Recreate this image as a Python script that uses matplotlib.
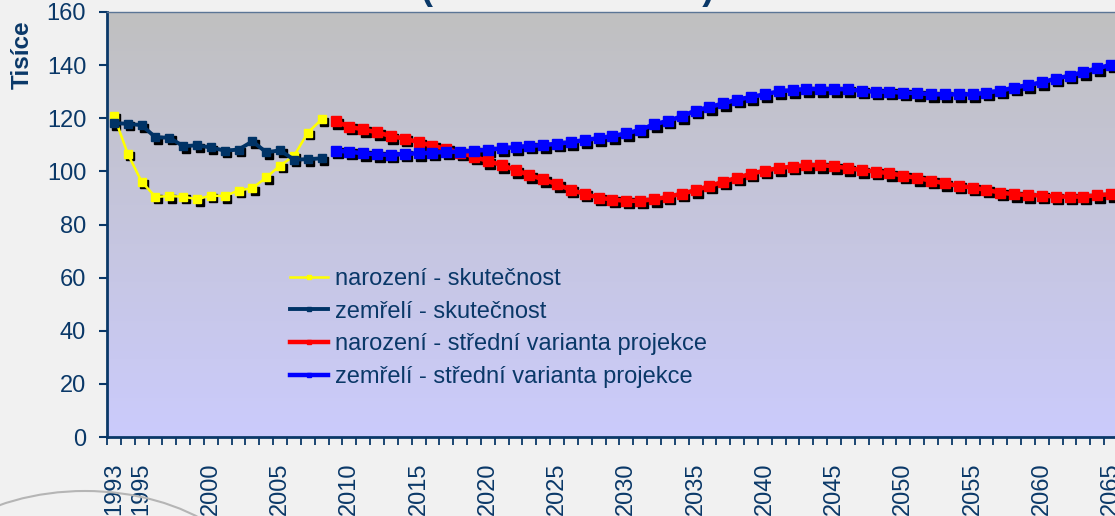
import matplotlib
matplotlib.use('Agg')
import matplotlib.pyplot as plt
import numpy as np
from matplotlib import patches, transforms

# births / deaths, thousands
years_actual = list(range(1993, 2009))
births_actual = [121.0, 106.6, 96.1, 90.4, 90.7, 90.5, 89.5, 90.9,
                 90.7, 92.8, 93.7, 97.7, 102.2, 105.8, 114.6, 119.6]
deaths_actual = [118.2, 117.9, 117.4, 112.8, 112.7, 109.5, 109.8, 109.0,
                 107.8, 108.2, 111.3, 107.2, 107.9, 104.4, 104.6, 104.9]

years_proj = list(range(2009, 2066))
births_proj = [118.8, 116.8, 115.8, 114.7, 113.3, 112.3, 111.0, 109.6, 108.5, 107.0,
               105.5, 103.9, 102.4, 100.5, 98.6, 97.0, 95.1, 93.0, 91.5, 90.1,
               89.4, 88.9, 88.9, 89.5, 90.4, 91.6, 92.9, 94.5, 96.1, 97.6,
               99.1, 100.3, 101.2, 101.8, 102.3, 102.4, 101.9, 101.2, 100.5, 99.9,
               99.3, 98.4, 97.5, 96.5, 95.5, 94.5, 93.9, 93.0, 92.0, 91.4,
               91.1, 90.9, 90.5, 90.5, 90.5, 91.0, 91.4]
deaths_proj = [107.8, 107.4, 106.8, 106.4, 106.2, 106.6, 106.8, 107.0, 107.4, 107.4,
               107.8, 108.1, 108.7, 109.1, 109.6, 109.9, 110.4, 111.0, 111.8, 112.5,
               113.3, 114.3, 115.6, 117.7, 119.0, 120.7, 122.9, 124.2, 125.6, 127.0,
               128.0, 129.0, 130.1, 130.6, 131.0, 131.0, 131.0, 130.9, 130.3, 130.0,
               130.0, 129.6, 129.5, 129.0, 129.0, 129.0, 129.0, 129.6, 130.4, 131.5,
               132.5, 133.5, 134.9, 136.0, 137.4, 138.8, 140.1]

labels = ['narození - skutečnost', 'zemřelí - skutečnost',
          'narození - střední varianta projekce', 'zemřelí - střední varianta projekce']
tick_years = [1993, 1995] + list(range(2000, 2066, 5))

navy = '#0a3868'
font = 'Liberation Sans'


def plot_series(ax, fig, x, y, color, lw, ms, label):
    shadow = transforms.offset_copy(ax.transData, fig=fig, x=2.5, y=-2.5, units='dots')
    ax.plot(x, y, 's', color='black', ms=ms, mec='black', transform=shadow, zorder=2)
    ax.plot(x, y, '-s', color=color, lw=lw, ms=ms, mec=color, zorder=3, label=label)


def main():
    plt.rcParams['font.family'] = [font, 'DejaVu Sans']
    fig = plt.figure(figsize=(11.15, 5.16), dpi=100, facecolor='#f1f1f1')
    ax = fig.add_axes([107 / 1115, 79 / 516, 1011 / 1115, 425 / 516])

    # gradient plot area, gray on top, lavender at the bottom
    grad = np.linspace(0, 1, 256).reshape(-1, 1, 1)
    top = np.array([192, 192, 192]) / 255
    bottom = np.array([203, 203, 252]) / 255
    img = top * (1 - grad) + bottom * grad
    ax.imshow(img, extent=[0, 1, 0, 1], transform=ax.transAxes, aspect='auto', zorder=0)

    plot_series(ax, fig, years_actual, births_actual, '#ffff00', 1.8, 6.3, labels[0])
    plot_series(ax, fig, years_actual, deaths_actual, '#003366', 2.8, 6.3, labels[1])
    plot_series(ax, fig, years_proj, births_proj, '#ff0000', 3.2, 6.5, labels[2])
    plot_series(ax, fig, years_proj, deaths_proj, '#0000ff', 3.2, 6.5, labels[3])

    ax.set_xlim(1992.5, 2065.5)
    ax.set_ylim(0, 160)
    ax.set_yticks(range(0, 161, 20))
    ax.set_xticks(tick_years)
    ax.set_xticklabels([str(y) for y in tick_years], rotation=90)
    ax.set_xticks(np.arange(1992.5, 2066, 1), minor=True)
    ax.tick_params(axis='x', which='major', length=0, pad=18.5, labelsize=17, labelcolor=navy)
    ax.tick_params(axis='x', which='minor', length=6, width=1.3, color=navy)
    ax.tick_params(axis='y', length=6, width=1.5, color=navy, pad=9, labelsize=17, labelcolor=navy)

    ax.spines['right'].set_visible(False)
    ax.spines['left'].set_color(navy)
    ax.spines['left'].set_linewidth(2)
    ax.spines['bottom'].set_color(navy)
    ax.spines['bottom'].set_linewidth(2)
    ax.spines['top'].set_color('#5b7595')
    ax.spines['top'].set_linewidth(1)

    fig.text(22 / 1115, 1 - 55 / 516, 'Tisíce', rotation=90, ha='center', va='center',
             fontsize=17.5, fontweight='bold', color=navy)
    # title sits above the visible area, only the bottom of the brackets shows
    fig.text(568 / 1115, 1 + 1 / 516, '(střední varianta)', ha='center', va='baseline',
             fontsize=26, fontweight='bold', color=navy)

    leg = ax.legend(loc='upper left', bbox_to_anchor=(290 / 1115, 1 - 268 / 516),
                    bbox_transform=fig.transFigure, frameon=False, fontsize=17,
                    handlelength=1.6, handletextpad=0.3, labelspacing=0.45,
                    borderpad=0, borderaxespad=0, markerscale=0.55)
    for t in leg.get_texts():
        t.set_color(navy)

    # slide decoration
    arc = patches.Arc((85, -100), 370, 250, theta1=0, theta2=180, color='#b5b5b5', lw=1.5,
                      transform=transforms.IdentityTransform())
    fig.add_artist(arc)

    fig.savefig('out.png', dpi=100, facecolor=fig.get_facecolor())


if __name__ == '__main__':
    main()
